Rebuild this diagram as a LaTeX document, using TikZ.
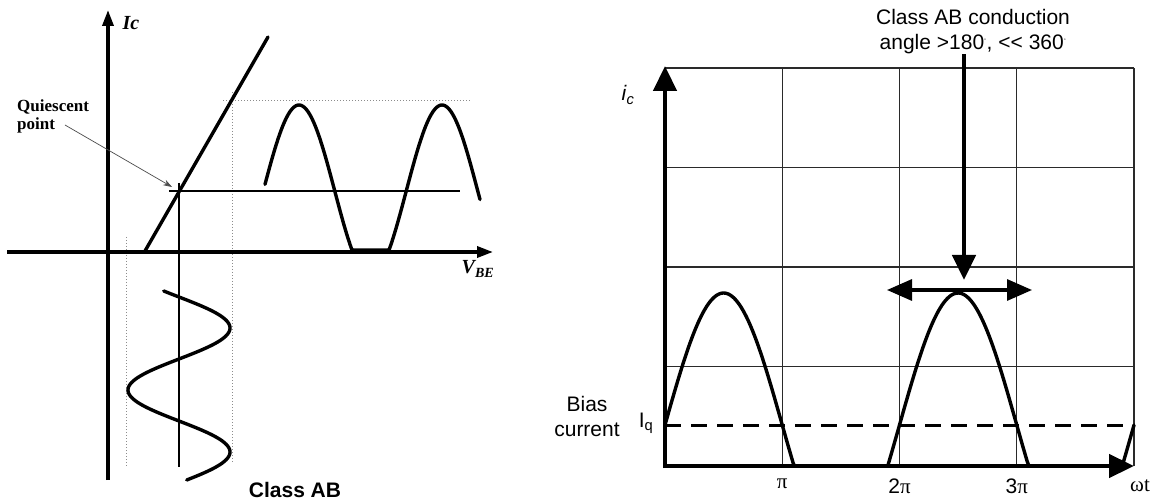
\documentclass[tikz,border=0pt]{standalone}
\usepackage{fontspec}
\setmainfont{Liberation Sans}
\newfontfamily\serif{Liberation Serif}
\usetikzlibrary{arrows.meta,positioning}
\definecolor{ink}{HTML}{000000}
\definecolor{dotc}{HTML}{8C8C8C}
\definecolor{gridc}{HTML}{2A2A2A}
\tikzset{
  axl/.style={line width=3.4pt, draw=ink, -{Triangle[length=16pt,width=11pt]}},
  axr/.style={line width=4.5pt, draw=ink, -{Triangle[length=25pt,width=23pt]}},
  span/.style={line width=3.2pt, draw=ink, {Triangle[length=25pt,width=21pt]}-{Triangle[length=25pt,width=21pt]}},
  wave/.style={line width=3.4pt, draw=ink, line join=round, line cap=round},
  qline/.style={line width=1.8pt, draw=ink},
  dotl/.style={line width=1pt, draw=dotc, dotted},
  gridl/.style={line width=1.1pt, draw=gridc},
  bias/.style={line width=3pt, draw=ink, dash pattern=on 16pt off 10pt},
  pointer/.style={line width=0.7pt, draw=black!70, shorten >=8pt, -{Stealth[length=9pt,width=6pt]}},
  lbl/.style={inner sep=0pt, text=ink, font=\fontsize{21}{25}\selectfont},
  serlbl/.style={inner sep=0pt, text=ink, font=\serif\bfseries\itshape\fontsize{20}{22}\selectfont},
  qlbl/.style={inner sep=0pt, text=ink, align=left, font=\serif\bfseries\fontsize{17}{18}\selectfont},
}

\begin{document}
\begin{tikzpicture}[x=1pt, y=-1pt]
  \useasboundingbox (0,0) rectangle (1156,502);
  % transfer characteristic
  \coordinate (q) at (179,191);
  \draw[dotl] (126,237) -- (126,467);
  \draw[dotl] (232,92) -- (232,463);
  \draw[dotl] (223,101) -- (470,101);
  \draw[axl] (108,480) -- (108,10);
  \draw[axl] (7,252) -- (493,252);
  \node[serlbl] (ic) at (131,23) {Ic};
  \node[serlbl] (vbe) at (478,269) {V\textsubscript{BE}};
  \draw[wave] (145,251) -- (268,37);
  \draw[qline] (169,191) -- (460,191);
  \draw[qline] (179,183) -- (179,467);
  \draw[wave] plot[domain=265:480, samples=160] (\x, {min(250,191-86*cos((\x-299)/143*360))});
  \draw[wave] plot[domain=291:480, samples=160] ({179+51*cos((\x-328)/124*360)}, \x);
  \node[qlbl, anchor=west] (qtext) at (17,116) {Quiescent\\point};
  \coordinate (qtail) at (65,125);
  \draw[pointer] (qtail) -- (q);
  \node[lbl, font=\bfseries\fontsize{21}{25}\selectfont] (cab) at (295,490) {Class AB};

  % collector current vs wt
  \foreach \gx in {782.25,899.5,1016.75,1134}
    \draw[gridl] (\gx,68) -- (\gx,466);
  \foreach \gy in {68,167.5,267,366.5}
    \draw[gridl] (665,\gy) -- (1134,\gy);
  \draw[bias] (665,425) -- (1134,425);
  \draw[wave] plot[domain=665:1134, samples=260] (\x, {min(466,425-132*sin((\x-665)/117.25*180))});
  \draw[axr] (665,468) -- (665,66);
  \draw[axr] (663,466) -- (1134,466);
  \node[lbl] (icl) at (628,95) {\textit{i}\textsubscript{\textit{c}}};
  \node[lbl] (iq) at (646,423) {I\textsubscript{q}};
  \node[lbl, align=center] (bias) at (587,416) {Bias\\current};
  \node[lbl, align=center] (cond) at (973,32) {Class AB conduction\\angle >180\textsuperscript{\tiny °}, {<}{<} 360\textsuperscript{\tiny °}};
  \coordinate (apex) at (964,280);
  \draw[axr] (cond.south -| apex) -- (apex);
  \coordinate (cl) at (887,290);
  \coordinate (cr) at (1032,290);
  \draw[span] (cl) -- (cr);
  \coordinate (t1) at (782.25,466);
  \coordinate (t2) at (899.5,466);
  \coordinate (t3) at (1016.75,466);
  \coordinate (t4) at (1140,466);
  \node[lbl, below=13pt of t1] (pi1) {\serif π};
  \node[lbl, below=13pt of t2] (pi2) {2\serif π};
  \node[lbl, below=13pt of t3] (pi3) {3\serif π};
  \node[lbl, below=13pt of t4] (wt) {\serif ωt};
\end{tikzpicture}
\end{document}
